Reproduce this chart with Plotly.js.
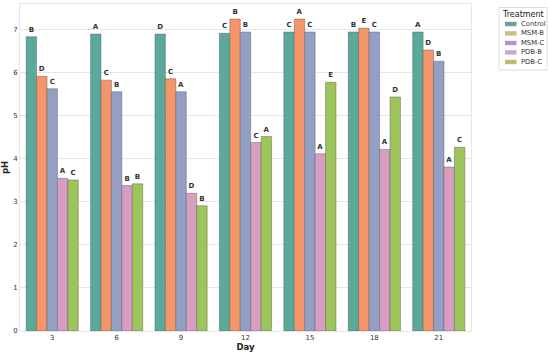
<!DOCTYPE html>
<html>
<head>
<meta charset="utf-8">
<script src="https://cdn.plot.ly/plotly-3.0.1.min.js"></script>
<style>html,body{margin:0;padding:0;background:#fff;}#chart{width:550px;height:354px;}</style>
</head>
<body>
<div id="chart"></div>
<script>
var days = ["3", "6", "9", "12", "15", "18", "21"];
var treatments = ["Control", "MSM-B", "MSM-C", "PDB-B", "PDB-C"];

var controlPH = [6.84, 6.90, 6.90, 6.92, 6.95, 6.95, 6.95];
var msmBPH    = [5.92, 5.83, 5.86, 7.25, 7.25, 7.04, 6.53];
var msmCPH    = [5.63, 5.56, 5.56, 6.95, 6.95, 6.95, 6.27];
var pdbBPH    = [3.55, 3.38, 3.20, 4.38, 4.12, 4.22, 3.81];
var pdbCPH    = [3.51, 3.42, 2.91, 4.52, 5.78, 5.44, 4.27];

var controlLetters = ["B", "A", "D", "C", "C", "B", "A"];
var msmBLetters    = ["D", "C", "C", "B", "A", "E", "D"];
var msmCLetters    = ["C", "B", "A", "B", "C", "C", "B"];
var pdbBLetters    = ["A", "B", "D", "C", "A", "A", "A"];
var pdbCLetters    = ["C", "B", "B", "A", "E", "D", "C"];

var barColors = ["#5ba99a", "#f4956a", "#949fc6", "#d89ec2", "#9ec45c"];
var legendColors = ["#7199a0", "#cbbd84", "#b690d0", "#c9aac9", "#bdbd6a"];

var values = [controlPH, msmBPH, msmCPH, pdbBPH, pdbCPH];
var letters = [controlLetters, msmBLetters, msmCLetters, pdbBLetters, pdbCLetters];

var traces = [];
for (var i = 0; i < treatments.length; i++) {
  traces.push({
    type: "bar",
    name: treatments[i],
    x: days,
    y: values[i],
    text: letters[i].map(function (s) { return "<b>" + s + "</b>"; }),
    textposition: "outside",
    constraintext: "none",
    cliponaxis: false,
    textfont: {family: "DejaVu Sans, Arial, sans-serif", size: 7, color: "#333"},
    marker: {color: barColors[i], line: {color: "rgba(90,90,90,0.55)", width: 0.8}},
    showlegend: false,
    hoverinfo: "skip"
  });
}

// custom compact legend, placed in figure pixels converted to plot-area "paper" units
var ML = 20, MR = 79, MT = 4, MB = 23, W = 550, H = 354;
var PW = W - ML - MR, PH = H - MT - MB;
function px(x) { return (x - ML) / PW; }
function py(y) { return (H - MB - y) / PH; }
var shapes = [{
  type: "rect", xref: "paper", yref: "paper",
  x0: px(499), x1: px(547), y0: py(7.5), y1: py(70),
  line: {color: "#dddddd", width: 1}, fillcolor: "#fff", layer: "above"
}];
var annotations = [{
  xref: "paper", yref: "paper", x: px(523), y: py(14.5),
  text: "Treatment", showarrow: false, xanchor: "center", yanchor: "middle",
  font: {size: 8, color: "#222"}
}];
var legendY = [24, 33.4, 43, 52.4, 62];
for (var k = 0; k < treatments.length; k++) {
  shapes.push({
    type: "rect", xref: "paper", yref: "paper", layer: "above",
    x0: px(505), x1: px(516.5), y0: py(legendY[k] + 2.2), y1: py(legendY[k] - 2.2),
    fillcolor: legendColors[k], line: {width: 0}
  });
  annotations.push({
    xref: "paper", yref: "paper", x: px(519), y: py(legendY[k]),
    text: treatments[k], showarrow: false, xanchor: "left", yanchor: "middle",
    font: {size: 6.8, color: "#333"}
  });
}

var layout = {
  width: W,
  height: H,
  margin: {l: ML, r: MR, t: MT, b: MB},
  paper_bgcolor: "#fff",
  plot_bgcolor: "#fff",
  barmode: "group",
  bargap: 0.19,
  bargroupgap: 0,
  showlegend: false,
  font: {family: "DejaVu Sans, Arial, sans-serif", color: "#333"},
  xaxis: {
    type: "category",
    tickfont: {size: 7, color: "#333"},
    showgrid: false,
    showline: true, mirror: true, linecolor: "#e6e6e6", linewidth: 1,
    ticks: "", ticklen: 0,
    title: {text: "<b>Day</b>", font: {size: 8.5, color: "#222"}, standoff: 2},
    automargin: false
  },
  yaxis: {
    range: [0, 7.6],
    dtick: 1,
    tickfont: {size: 7, color: "#333"},
    showgrid: true, gridcolor: "#e6e6e6", gridwidth: 1,
    zeroline: false,
    showline: true, mirror: true, linecolor: "#e6e6e6", linewidth: 1,
    ticks: "", ticklen: 0,
    title: {text: "<b>pH</b>", font: {size: 8.5, color: "#222"}, standoff: 4},
    automargin: false
  },
  shapes: shapes,
  annotations: annotations
};

Plotly.newPlot("chart", traces, layout, {displayModeBar: false, staticPlot: true});
</script>
</body>
</html>
